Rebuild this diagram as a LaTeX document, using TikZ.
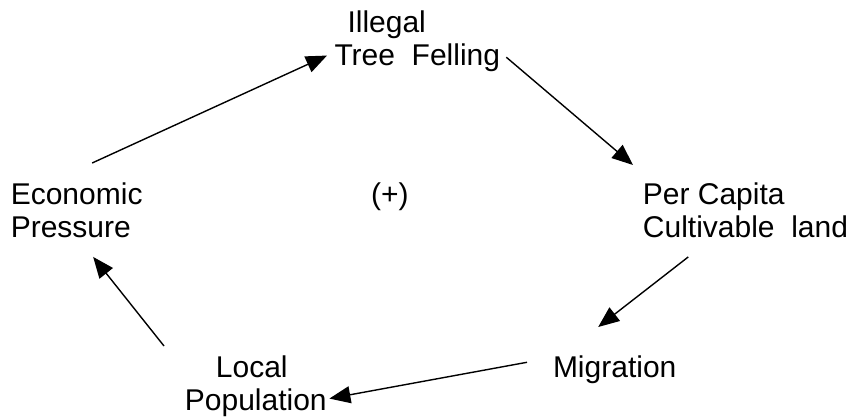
\documentclass[tikz,border=0pt]{standalone}
\usepackage{fontspec}
\setmainfont{Liberation Sans}
\usetikzlibrary{arrows.meta,positioning,calc}

\begin{document}
\begin{tikzpicture}[
    x=1pt, y=-1pt,
    every node/.style={font=\fontsize{30}{33.5}\selectfont, inner sep=0pt, anchor=north west},
    factor/.style={align=left, text=black},
    link/.style={-{Triangle[length=21pt, width=17pt]}, line width=1.4pt}
]
    \useasboundingbox (0,0) rectangle (853,417);

    % Factors
    \node[factor] (fell) at (334.3,10.5) {\hspace*{13pt}Illegal\\Tree\ \ Felling};
    \node[factor] (econ) at (10.6,182.5) {Economic\\Pressure};
    \node[factor] (land) at (642.7,182.5) {Per Capita\\Cultivable\ \ land};
    \node[factor] (migr) at (552.8,355.5) {Migration};
    \node[factor] (pop) at (184.7,355.5) {\hspace*{31pt}Local\\Population};

    % Loop sign
    \node (sign) at (371,182.2) {(+)};

    % Arrows
    \draw[link] ([xshift=15.5pt, yshift=19.5pt]econ.north) -- ([xshift=-7.3pt, yshift=16.8pt]fell.south west);
    \draw[link] ([xshift=6pt, yshift=-15.8pt]fell.east) -- ([xshift=-9.7pt, yshift=17.5pt]land.north west);
    \draw[link] ([xshift=-57.2pt, yshift=-18.5pt]land.south) -- ([xshift=-16.5pt, yshift=28.5pt]migr.north);
    \draw[link] ([xshift=-25.8pt, yshift=7.4pt]migr.west) -- ([xshift=2.5pt, yshift=18.8pt]pop.south east);
    \draw[link] ([xshift=-20.7pt, yshift=9.5pt]pop.north west) -- ([xshift=16.5pt, yshift=-18.5pt]econ.south);
\end{tikzpicture}
\end{document}
